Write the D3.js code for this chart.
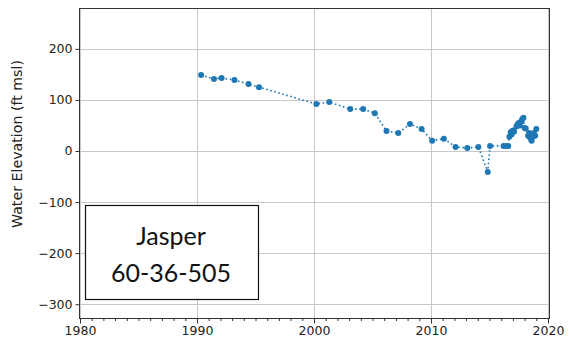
<!DOCTYPE html>
<html><head><meta charset="utf-8">
<script src="https://cdn.jsdelivr.net/npm/d3@7"></script>
<style>body{margin:0;background:#fff}svg{display:block}</style>
</head><body>
<script>
const years = [1990.35,1991.45,1992.1,1993.2,1994.4,1995.3,2000.2,2001.3,2003.1,2004.2,2005.2,2006.2,2007.2,2008.2,2009.2,2010.1,2011.1,2012.1,2013.1,2014.05,2014.85,2015.05,2016.2,2016.45,2016.6,2016.7,2016.8,2016.9,2017.0,2017.1,2017.3,2017.4,2017.5,2017.6,2017.7,2017.8,2017.9,2018.0,2018.1,2018.3,2018.4,2018.5,2018.6,2018.7,2018.8,2018.9,2019.0];
const elevations = [149,141,143,139,131,125,92,96,82,82,74,39,35,53,43,20,24,8,6,8,-41,10,10,10,10,28,37,33,40,38,48,52,55,50,58,62,65,45,44,30,35,25,20,28,35,30,43];
const xTicks = [1980,1990,2000,2010,2020];
const yTicks = [200,100,0,-100,-200,-300];
const labelLines = ["Jasper","60-36-505"];

const W=569,H=341;
const svg=d3.select("body").append("svg").attr("width",W).attr("height",H);
const x=d3.scaleLinear().domain([1980,2020]).range([80,548]);
const y=d3.scaleLinear().domain([-327,280]).range([318,8]);
const L=79.5,R=549.5,T=8.5,B=318.5;

// grid
svg.append("g").selectAll("line").data(xTicks).join("line")
 .attr("x1",d=>Math.round(x(d))+0.5).attr("x2",d=>Math.round(x(d))+0.5).attr("y1",T).attr("y2",B)
 .attr("stroke","#c8c8c8").attr("stroke-width",1);
svg.append("g").selectAll("line").data(yTicks).join("line")
 .attr("y1",d=>Math.round(y(d))+0.5).attr("y2",d=>Math.round(y(d))+0.5).attr("x1",L).attr("x2",R)
 .attr("stroke","#c8c8c8").attr("stroke-width",1);

// data
const pts=years.map((d,i)=>[d,elevations[i]]);
svg.append("path").datum(pts)
 .attr("d",d3.line().x(d=>x(d[0])).y(d=>y(d[1])))
 .attr("fill","none").attr("stroke","#1f77b4").attr("stroke-width",1.6)
 .attr("stroke-dasharray","1.6,2.6");
svg.append("g").selectAll("circle").data(pts).join("circle")
 .attr("cx",d=>x(d[0])).attr("cy",d=>y(d[1])).attr("r",3).attr("fill","#1f77b4");

// spines
svg.append("rect").attr("x",L).attr("y",T).attr("width",R-L).attr("height",B-T)
 .attr("fill","none").attr("stroke","#333").attr("stroke-width",1);

// x axis
const xAxis=d3.axisBottom(x).tickValues(xTicks).tickFormat(d3.format("d")).tickSize(5).tickPadding(3);
const gx=svg.append("g").attr("transform",`translate(0,${B})`).call(xAxis);
gx.select(".domain").remove();
gx.selectAll("text").attr("font-family","DejaVu Sans").attr("font-size",12.5).attr("fill","#222");
gx.selectAll("line").attr("stroke","#333");
const minor=d3.range(1980,2021).filter(v=>v%10!==0);
const xMinor=d3.axisBottom(x).tickValues(minor).tickFormat("").tickSize(2.5);
const gm=svg.append("g").attr("transform",`translate(0,${B})`).call(xMinor);
gm.select(".domain").remove();
gm.selectAll("line").attr("stroke","#333");

// y axis
const yAxis=d3.axisLeft(y).tickValues(yTicks).tickFormat(d=>d<0?"\u2212"+Math.abs(d):d).tickSize(4).tickPadding(3);
const gy=svg.append("g").attr("transform",`translate(${L},0)`).call(yAxis);
gy.select(".domain").remove();
gy.selectAll("text").attr("font-family","DejaVu Sans").attr("font-size",12.5).attr("fill","#222");
gy.selectAll("line").attr("stroke","#333");

svg.append("text").attr("transform",`translate(17,144) rotate(-90)`)
 .attr("text-anchor","middle").attr("dominant-baseline","central").attr("font-family","DejaVu Sans").attr("font-size",14.2).attr("fill","#222")
 .text("Water Elevation (ft msl)");

// label box
svg.append("rect").attr("x",85.5).attr("y",205.5).attr("width",173).attr("height",94)
 .attr("fill","#fff").attr("stroke","#111").attr("stroke-width",1.2);
svg.append("g").selectAll("text").data(labelLines).join("text")
 .attr("x",171).attr("y",(d,i)=>245+i*36.5).attr("text-anchor","middle")
 .attr("font-family","Lato").attr("font-size",25).attr("fill","#111").text(d=>d);
</script>
</body></html>
